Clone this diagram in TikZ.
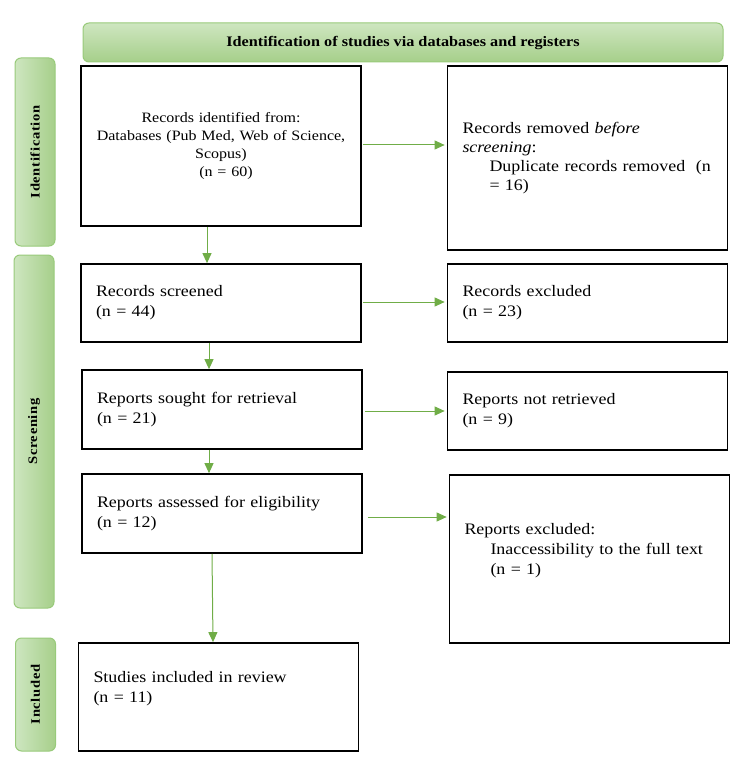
\documentclass[tikz,border=0pt]{standalone}
\usepackage{fontspec}
\setmainfont{Liberation Serif}[FakeStretch=1.12]
\newfontfamily\lanefont{Liberation Serif}[FakeStretch=1.12,LetterSpace=5]
\usetikzlibrary{arrows.meta}
\definecolor{prgreen}{RGB}{112,173,71}
\definecolor{prlight}{RGB}{206,230,192}
\definecolor{prdark}{RGB}{166,207,138}
\definecolor{prborder}{RGB}{152,202,122}
\tikzset{
    prbox/.style={rectangle, draw=black, line width=1.7pt, text width=250pt, inner xsep=15pt, align=left, font=\fontsize{16}{20}\selectfont},
    lanebar/.style={rectangle, rounded corners=6pt, draw=prborder, line width=1pt, left color=prlight, right color=prdark, minimum width=40pt},
    headbar/.style={rectangle, rounded corners=6pt, draw=prborder, line width=1pt, top color=prlight, bottom color=prdark, minimum width=640pt, minimum height=39pt, font=\fontsize{14.5}{16}\selectfont\bfseries},
    lanelab/.style={font=\lanefont\fontsize{13}{15}\selectfont\bfseries, rotate=90},
    arr/.style={-{Triangle[length=10pt, width=9pt]}, line width=1pt, color=prgreen}
}
\begin{document}
\begin{tikzpicture}[x=1pt, y=-1pt]
    \useasboundingbox (0,0) rectangle (743,759);
    % Header
    \node[headbar] (head) at (403,42.5) {Identification of studies via databases and registers};

    % Phase bars
    \node[lanebar, minimum height=188pt] (lid) at (35,152) {};
    \node[lanelab] (tid) at (lid) {Identification};
    \node[lanebar, minimum height=353pt] (lsc) at (34,431.5) {};
    \node[lanelab] (tsc) at (lsc) {Screening};
    \node[lanebar, minimum height=113pt] (lin) at (35.5,694.5) {};
    \node[lanelab] (tin) at (lin) {Included};

    % Boxes
    \node[prbox, minimum height=160pt, align=center, font=\fontsize{14.3}{18}\selectfont] (b1) at (221,146)
        {Records identified from:\\ Databases (Pub Med, Web of Science,\\ Scopus)\\ \hspace*{10pt}(n = 60)};
    \node[prbox, minimum height=184pt, font=\fontsize{16}{19}\selectfont] (b2) at (587.5,158)
        {Records removed \textit{before}\\ \textit{screening}:\\ \hspace*{27pt}Duplicate records removed~~(n\\ \hspace*{27pt}= 16)};
    \node[prbox, minimum height=78pt] (b3) at (221,303) {Records screened\\ (n = 44)};
    \node[prbox, minimum height=78pt] (b4) at (587.5,303) {Records excluded\\ (n = 23)};
    \node[prbox, minimum height=79pt] (b5) at (222,409.5) {Reports sought for retrieval\\ (n = 21)};
    \node[prbox, minimum height=78pt] (b6) at (587.5,411) {Reports not retrieved\\ (n = 9)};
    \node[prbox, minimum height=79pt] (b7) at (222,513.5) {Reports assessed for eligibility\\ (n = 12)};
    \node[prbox, minimum height=168pt] (b8) at (589.5,559)
        {Reports excluded:\\ \hspace*{26pt}Inaccessibility to the full text\\ \hspace*{26pt}(n = 1)\\ \mbox{}};
    \node[prbox, minimum height=108pt] (b9) at (218.5,697) {Studies included in review\\ (n = 11)\\ \mbox{}};

    % Arrows
    \draw[arr] ([xshift=-14pt]b1.south) -- ([xshift=-14pt]b3.north);
    \draw[arr] ([xshift=-12pt]b3.south) -- ([xshift=-13pt]b5.north);
    \draw[arr] ([xshift=-13pt]b5.south) -- ([xshift=-13pt]b7.north);
    \draw[arr] ([xshift=-10pt]b7.south) -- ([xshift=-5.5pt]b9.north);
    \draw[arr, shorten <=1pt, shorten >=2pt] ([yshift=1pt]b1.east) -- ([yshift=1pt]b1.east -| b2.west);
    \draw[arr, shorten <=1pt, shorten >=2pt] ([yshift=1pt]b3.east) -- ([yshift=1pt]b3.east -| b4.west);
    \draw[arr, shorten <=2pt, shorten >=2pt] ([yshift=-1.5pt]b5.east) -- ([yshift=-1.5pt]b5.east -| b6.west);
    \draw[arr, shorten <=5pt, shorten >=2pt] ([yshift=-3.5pt]b7.east) -- ([yshift=-3.5pt]b7.east -| b8.west);
\end{tikzpicture}
\end{document}
